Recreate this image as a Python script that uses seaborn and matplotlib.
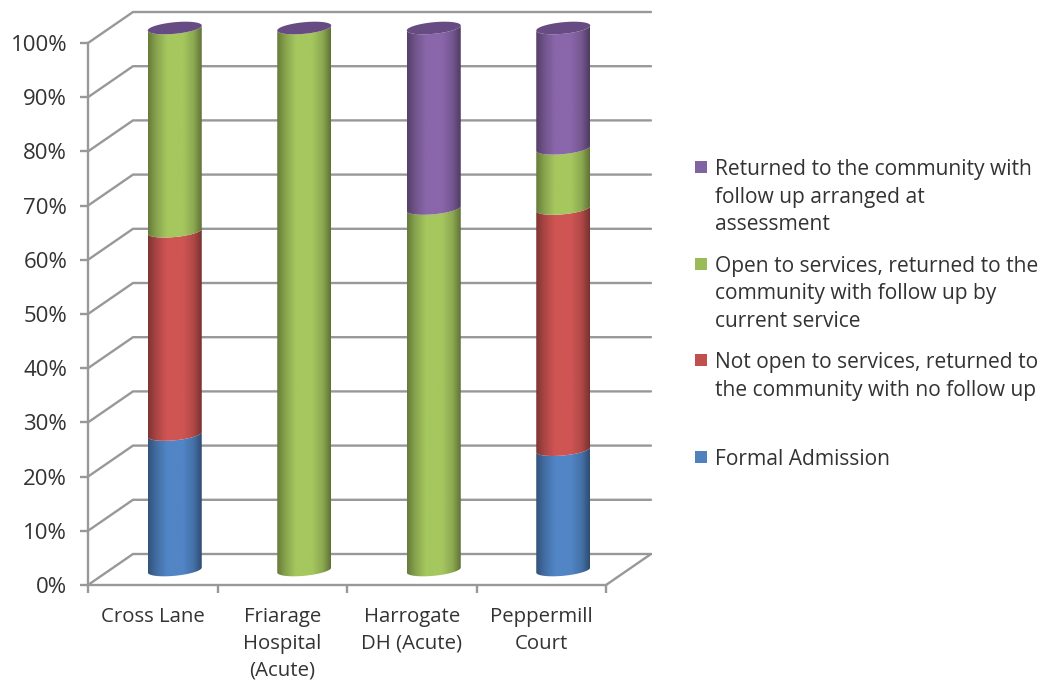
import numpy as np
import pandas as pd
import matplotlib
matplotlib.use('Agg')
import matplotlib.pyplot as plt
import seaborn as sns
from matplotlib.colors import to_rgb
from matplotlib.patches import Polygon, Rectangle

# --- data ---
categories = ['Cross Lane', 'Friarage\nHospital\n(Acute)', 'Harrogate\nDH (Acute)', 'Peppermill\nCourt']
formal_admission = [25.0, 0.0, 0.0, 22.2]
not_open = [37.5, 0.0, 0.0, 44.5]
open_services = [37.5, 100.0, 66.7, 11.1]
follow_up = [0.0, 0.0, 33.3, 22.2]
y_ticks = [0, 10, 20, 30, 40, 50, 60, 70, 80, 90, 100]

series_values = [formal_admission, not_open, open_services, follow_up]
series_colors = ['#5185c6', '#cf5553', '#a5c75e', '#8a66aa']
cap_color = '#664c82'
legend_labels = [
    'Returned to the community with\nfollow up arranged at\nassessment',
    'Open to services, returned to the\ncommunity with follow up by\ncurrent service',
    'Not open to services, returned to\nthe community with no follow up',
    'Formal Admission',
]
legend_colors = ['#8064a2', '#9bbb59', '#c0504d', '#4f81bd']

# --- layout, in pixels of the 1044x681 picture ---
W, H = 1044, 681
GREY = '#989898'
TEXT = '#333333'


def px_axes(fig, left, right, top, bottom):
    return fig.add_axes([left / W, 1 - bottom / H, (right - left) / W, (bottom - top) / H])


def draw_segment(ax, patch, color, semi_minor, shear):
    x0, x1 = patch.get_x(), patch.get_x() + patch.get_width()
    y0, y1 = patch.get_y(), patch.get_y() + patch.get_height()
    cx, a = (x0 + x1) / 2, (x1 - x0) / 2
    t = np.linspace(np.pi, 2 * np.pi, 60)
    xs = cx + a * np.cos(t)
    arc = semi_minor * np.sin(t) + shear * np.cos(t)
    outline = np.vstack([np.column_stack([xs, y0 + arc]),
                         np.column_stack([xs[::-1], y1 + arc[::-1]])])

    # shading of the cylinder, dark at the edges
    rgb = np.array(to_rgb(color))
    stops = np.interp(np.linspace(0, 1, 80), [0, 0.15, 0.35, 0.65, 0.85, 1],
                      [0.62, 0.82, 1.0, 1.0, 0.85, 0.58])
    grad = (stops[:, None] * rgb)[None, :, :]
    im = ax.imshow(grad, extent=[x0, x1, y0 - semi_minor - abs(shear), y1 + semi_minor],
                   aspect='auto', interpolation='bilinear', zorder=3)
    im.set_clip_path(Polygon(outline, closed=True, transform=ax.transData))
    im.set_clip_box(ax.figure.bbox)


def main():
    sns.set_style('white')
    plt.rcParams['font.family'] = ['Open Sans', 'DejaVu Sans']
    fig = plt.figure(figsize=(W / 100, H / 100), dpi=100)
    fig.patch.set_facecolor('white')

    # front plane of the box: ticks and labels live here
    ax = px_axes(fig, 88, 606, 43, 585)
    ax.set_xlim(-0.5, 3.5)
    ax.set_ylim(0, 100)
    ax.patch.set_alpha(0)
    depth_x = 45 / 129.5
    depth_y = 31 / 5.42

    # back wall and the side lines
    for v in y_ticks:
        ax.plot([-0.5, -0.5 + depth_x, 3.5 + depth_x], [v, v + depth_y, v + depth_y],
                color=GREY, lw=1.7, clip_on=False, zorder=1, solid_joinstyle='miter')
    ax.plot([3.5, 3.5 + depth_x], [0, depth_y], color=GREY, lw=1.7, clip_on=False, zorder=1)

    sns.despine(ax=ax, top=True, right=True)
    for side in ['left', 'bottom']:
        ax.spines[side].set_color(GREY)
        ax.spines[side].set_linewidth(1.7)
    ax.set_yticks(y_ticks)
    ax.set_yticklabels([f'{v}%' for v in y_ticks])
    ax.set_xticks(range(len(categories)))
    ax.set_xticklabels(categories, linespacing=1.45)
    ax.set_xticks(np.arange(-0.5, 4), minor=True)
    ax.tick_params(axis='y', length=6, width=1.7, color=GREY, labelcolor=TEXT,
                   labelsize=16, pad=9, left=True)
    ax.tick_params(axis='x', which='major', length=0, labelcolor=TEXT, labelsize=14.7, pad=16)
    ax.tick_params(axis='x', which='minor', length=6, width=1.7, color=GREY, bottom=True)

    # cylinders sit half way into the box
    bars = px_axes(fig, 110, 628, 28, 570)
    bars.patch.set_alpha(0)
    cum = np.zeros(len(categories))
    semi_minor, shear = 1.07, 0.46
    for values, color in zip(series_values, series_colors):
        n_before = len(bars.patches)
        df = pd.DataFrame({'Site': categories, 'Share': values})
        sns.barplot(data=df, x='Site', y='Share', order=categories, bottom=cum, color=color,
                    width=54 / 129.5, ax=bars)
        for patch in bars.patches[n_before:]:
            patch.set_visible(False)
            if patch.get_height() > 0:
                draw_segment(bars, patch, color, semi_minor, shear)
        cum = cum + np.array(values)

    half = 54 / 129.5 / 2
    t = np.linspace(0, 2 * np.pi, 120)
    for i, top in enumerate(cum):
        bars.fill(i + half * np.cos(t), top + semi_minor * np.sin(t) + shear * np.cos(t),
                  color=cap_color, lw=0, zorder=4, clip_on=False)
    bars.set_xlim(-0.5, 3.5)
    bars.set_ylim(0, 100)
    bars.axis('off')

    # legend, one entry every 97 px, swatch against the first line
    for i, (label, color) in enumerate(zip(legend_labels, legend_colors)):
        y = 167 + i * 96.7
        fig.add_artist(Rectangle((695 / W, 1 - (y + 6) / H), 12 / W, 12 / H,
                                 transform=fig.transFigure, color=color, lw=0))
        fig.text(715 / W, 1 - (y - 8) / H, label, ha='left', va='top', color=TEXT,
                 fontsize=15.15, linespacing=1.41)

    fig.savefig('out.png', dpi=100, facecolor='white')


if __name__ == '__main__':
    main()
